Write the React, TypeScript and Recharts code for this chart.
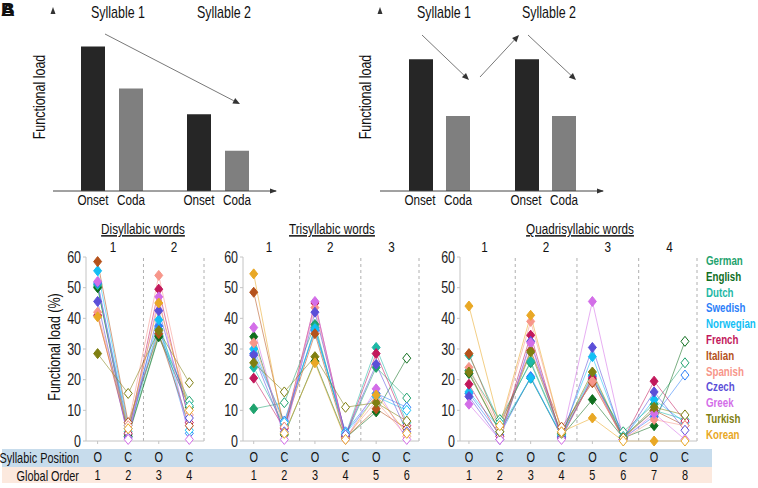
import { BarChart, Bar, LineChart, Line, XAxis, YAxis, ReferenceLine } from 'recharts';

const FONT = "'Liberation Sans', Arial, sans-serif";
const SQ = 0.78; // narrow look of the original typeface

// top schematic panels (arbitrary units)
const syllables = ['Syllable 1', 'Syllable 2'];
const declineOnset = [79, 42];
const declineCoda = [56, 22];
const alternOnset = [72, 72];
const alternCoda = [41, 41];

const LANGS = ['German', 'English', 'Dutch', 'Swedish', 'Norwegian', 'French', 'Italian', 'Spanish', 'Czech', 'Greek', 'Turkish', 'Korean'];
const COLORS = ['#1fa36e', '#0f6e1e', '#1eb8a6', '#2d7ff9', '#13bff5', '#c2185b', '#b5521b', '#f7968a', '#5b4fd8', '#d36ee8', '#7f7f12', '#e9a825'];

// functional load (%) per language, positions O C O C ...
const disyllabic = [
  [50.5, 2, 34.5, 13],
  [50, 1.5, 34, 11],
  [51, 3, 36.5, 11.5],
  [51.5, 4, 37.5, 2.5],
  [55.5, 5, 39.5, 3.5],
  [41, 2.5, 49.5, 6],
  [58.5, 6, 35, 5],
  [42, 5, 54, 8.5],
  [45.5, 1, 42.5, 7.5],
  [52, 0.5, 47, 0.5],
  [28.5, 15.5, 36, 19],
  [40.5, 4, 45, 10],
];

const trisyllabic = [
  [10.5, 12.5, 38, 1.5, 24, 14],
  [34, 2, 26, 1, 9.5, 27],
  [24, 5, 37, 2, 30.5, 6],
  [28.5, 6.5, 36, 3, 15.5, 11],
  [30, 6, 36.5, 2.5, 14.5, 10],
  [20.5, 4, 45, 1.5, 28.5, 5],
  [48.5, 4.5, 35, 1, 10.5, 4],
  [32, 4.5, 43.5, 1, 13, 1.5],
  [28, 3, 42, 2, 25, 3],
  [37, 0.5, 45.5, 0.5, 17, 0.5],
  [25.5, 16, 27.5, 11, 12.5, 6.5],
  [54.5, 2.5, 25.5, 0.5, 15, 2.5],
];

const quadrisyllabic = [
  [23, 7, 25.5, 2, 20, 3, 12, 25.5],
  [22, 3, 20.5, 1.5, 13.5, 1, 5, 32.5],
  [28, 6, 26, 2.5, 21.5, 1.5, 10, 7],
  [15.5, 2, 21, 1.5, 21, 1, 8, 21.5],
  [16, 4, 20.5, 2, 27.5, 1, 13.5, 6],
  [18.5, 1.5, 34.5, 1, 20.5, 0.5, 19.5, 6.5],
  [28.5, 4.5, 29.5, 4.5, 19, 1, 10, 5],
  [24, 4, 39, 3, 19.5, 0.5, 7, 5],
  [14.5, 0.5, 32.5, 1, 30.5, 0.5, 16, 3.5],
  [12, 0.5, 32, 0.5, 45.5, 0.5, 9, 0.5],
  [22.5, 3, 29, 2.5, 22.5, 1, 11, 8.5],
  [44, 5, 41, 3, 7.5, 0, 0, 0],
];

const yTicks = [0, 10, 20, 30, 40, 50, 60];

function toRows(values: number[][]) {
  const n = values[0].length;
  return Array.from({ length: n }, (_, i) => {
    const row: Record<string, number> = { pos: i + 1 };
    LANGS.forEach((l, k) => { row[l] = values[k][i]; });
    return row;
  });
}

// text with a condensed look
function NText({ x, y, size = 13, anchor = 'middle', rotate = 0, dy, weight, fill = '#111', underline, children }: any) {
  return (
    <text
      transform={`translate(${x},${y}) rotate(${rotate}) scale(${SQ},1)`}
      fontSize={size}
      fontFamily={FONT}
      textAnchor={anchor}
      dy={dy}
      fontWeight={weight}
      fill={fill}
      style={underline ? { textDecoration: 'underline' } : undefined}
    >
      {children}
    </text>
  );
}

const diamondDot = (color: string) => (props: any) => {
  const { cx, cy, payload, index } = props;
  if (cx == null || cy == null) return <g key={`e${index}`} />;
  const onset = payload.pos % 2 === 1;
  return (
    <path
      key={`d${index}`}
      d={`M${cx},${cy - 5}L${cx + 4},${cy}L${cx},${cy + 5}L${cx - 4},${cy}Z`}
      fill={onset ? color : '#fff'}
      stroke={color}
      strokeWidth={1}
    />
  );
};

function SchematicTick({ x, y }: any) {
  return (
    <g>
      <NText x={x - 19} y={y} dy="0.62em" size={15}>Onset</NText>
      <NText x={x + 19} y={y} dy="0.62em" size={15}>Coda</NText>
    </g>
  );
}

const YTick = ({ x, y, payload }: any) => <NText x={x} y={y} dy="0.36em" size={16} anchor="end" fill="#222">{payload.value}</NText>;
const SylTick = ({ x, y, payload }: any) => <NText x={x} y={y} size={15}>{(payload.value + 0.5) / 2}</NText>;
const OcTick = ({ x, y, payload }: any) => <NText x={x} y={y} dy="0.71em" size={14}>{payload.value % 2 === 1 ? 'O' : 'C'}</NText>;
const GlobTick = ({ x, y, payload }: any) => <NText x={x} y={y} dy="0.71em" size={14}>{payload.value}</NText>;

function Schematic({ left, onset, coda, gap, padL, padR }: any) {
  const data = syllables.map((s, i) => ({ name: s, onset: onset[i], coda: coda[i] }));
  return (
    <div style={{ position: 'absolute', left, top: 0 }}>
      <BarChart width={290} height={215} data={data} margin={{ top: 8, right: 14, bottom: 0, left: 53 }} barGap={gap}>
        <XAxis dataKey="name" axisLine={{ stroke: '#444' }} tickLine={false} tickSize={0} height={24} tickMargin={5} tick={<SchematicTick />} padding={{ left: padL, right: padR }} />
        <YAxis domain={[0, 100]} width={0} tick={false} tickLine={false} axisLine={{ stroke: '#444' }} />
        <Bar dataKey="onset" fill="#262626" barSize={24} isAnimationActive={false} />
        <Bar dataKey="coda" fill="#7f7f7f" barSize={24} isAnimationActive={false} />
      </BarChart>
    </div>
  );
}

function WordPanel({ values, left, width, domain }: any) {
  const data = toRows(values);
  const n = values[0].length;
  const ticks = data.map((d) => d.pos);
  const sylTicks = Array.from({ length: n / 2 }, (_, i) => 2 * i + 1.5);
  const dividers = Array.from({ length: n / 2 - 1 }, (_, i) => 2 * i + 2.5);
  return (
    <div style={{ position: 'absolute', left, top: 236 }}>
      <LineChart width={width} height={250} data={data} margin={{ top: 0, right: 16, bottom: 0, left: 0 }}>
        <XAxis xAxisId="s" orientation="top" type="number" dataKey="pos" domain={domain} ticks={sylTicks} allowDataOverflow
          height={21} axisLine={false} tickLine={false} tickSize={0} tickMargin={5} tick={<SylTick />} />
        <XAxis xAxisId="b" type="number" dataKey="pos" domain={domain} ticks={ticks} allowDataOverflow
          height={20} axisLine={false} tickLine={false} tickSize={0} tickMargin={4} tick={<GlobTick />} />
        <XAxis xAxisId="a" type="number" dataKey="pos" domain={domain} ticks={ticks} allowDataOverflow
          height={25} axisLine={{ stroke: '#c4c4c4' }} tickLine={{ stroke: '#c4c4c4' }} tickSize={3} tickMargin={8} tick={<OcTick />} />
        <YAxis domain={[0, 60]} ticks={yTicks} width={46} axisLine={{ stroke: '#c4c4c4' }} tickLine={{ stroke: '#c4c4c4' }} tickSize={3} tick={<YTick />} />
        {dividers.map((x) => (
          <ReferenceLine key={x} xAxisId="a" x={x} stroke="#b0b0b0" strokeDasharray="3 3" />
        ))}
        <ReferenceLine xAxisId="a" x={domain[1]} stroke="#b0b0b0" strokeDasharray="3 3" />
        {LANGS.map((l, k) => (
          <Line key={l} xAxisId="a" dataKey={l} stroke={COLORS[k]} strokeOpacity={0.55} strokeWidth={1}
            dot={diamondDot(COLORS[k])} isAnimationActive={false} />
        ))}
      </LineChart>
    </div>
  );
}

function Arrow({ x1, y1, x2, y2 }: any) {
  const a = Math.atan2(y2 - y1, x2 - x1);
  const L = 7, W = 3;
  const bx = x2 - L * Math.cos(a), by = y2 - L * Math.sin(a);
  const p1 = `${bx + W * Math.sin(a)},${by - W * Math.cos(a)}`;
  const p2 = `${bx - W * Math.sin(a)},${by + W * Math.cos(a)}`;
  return (
    <g>
      <line x1={x1} y1={y1} x2={bx} y2={by} stroke="#555" strokeWidth={0.8} />
      <polygon points={`${x2},${y2} ${p1} ${p2}`} fill="#333" />
    </g>
  );
}

export default function App() {
  return (
    <div style={{ position: 'absolute', left: 0, top: 0, width: 758, height: 488, background: '#fff', overflow: 'hidden', fontFamily: FONT }}>
      {/* table bands */}
      <div style={{ position: 'absolute', left: 2, top: 449, width: 710, height: 18, background: '#c7dcec' }} />
      <div style={{ position: 'absolute', left: 2, top: 467, width: 710, height: 16, background: '#fce9de' }} />

      <Schematic left={0} onset={declineOnset} coda={declineCoda} gap={14} padL={6} padR={5} />
      <Schematic left={327} onset={alternOnset} coda={alternCoda} gap={13} padL={6} padR={5} />

      <WordPanel values={disyllabic} left={40} width={180} domain={[0.62, 4.48]} />
      <WordPanel values={trisyllabic} left={197} width={238} domain={[0.65, 6.4]} />
      <WordPanel values={quadrisyllabic} left={414} width={299} domain={[0.71, 8.39]} />

      <svg width={758} height={488} style={{ position: 'absolute', left: 0, top: 0, pointerEvents: 'none' }}>
        <text x={1} y={16} fontSize={19} fontWeight="bold" fill="#111" fontFamily={FONT}>A</text>
        <text x={1} y={16} fontSize={19} fontWeight="bold" fill="#111" fontFamily={FONT}>B</text>
        <polygon points="53,7 50.5,14 55.5,14" fill="#333" />
        <polygon points="277,191 270,188.5 270,193.5" fill="#333" />
        <polygon points="380,7 377.5,14 382.5,14" fill="#333" />
        <polygon points="604,191 597,188.5 597,193.5" fill="#333" />
        <NText x={118} y={18} size={16}>Syllable 1</NText>
        <NText x={224} y={18} size={16}>Syllable 2</NText>
        <NText x={444} y={18} size={16}>Syllable 1</NText>
        <NText x={549} y={18} size={16}>Syllable 2</NText>
        <NText x={45} y={97} rotate={-90} size={16}>Functional load</NText>
        <NText x={371} y={97} rotate={-90} size={16}>Functional load</NText>
        <Arrow x1={105} y1={34} x2={240} y2={104} />
        <Arrow x1={422} y1={35} x2={469} y2={80} />
        <Arrow x1={480} y1={77} x2={519} y2={35} />
        <Arrow x1={528} y1={35} x2={576} y2={80} />

        <NText x={60} y={347} rotate={-90} size={16}>Functional load (%)</NText>
        <NText x={143} y={234} size={15} underline>Disyllabic words</NText>
        <NText x={332} y={234} size={15} underline>Trisyllabic words</NText>
        <NText x={580} y={234} size={15} underline>Quadrisyllabic words</NText>

        <NText x={79} y={463} size={14} anchor="end">Syllabic Position</NText>
        <NText x={79} y={481} size={14} anchor="end">Global Order</NText>

        {LANGS.map((l, k) => (
          <NText key={l} x={706} y={265 + k * 15.8} size={12.5} anchor="start" weight="bold" fill={COLORS[k]}>{l}</NText>
        ))}
      </svg>
    </div>
  );
}
